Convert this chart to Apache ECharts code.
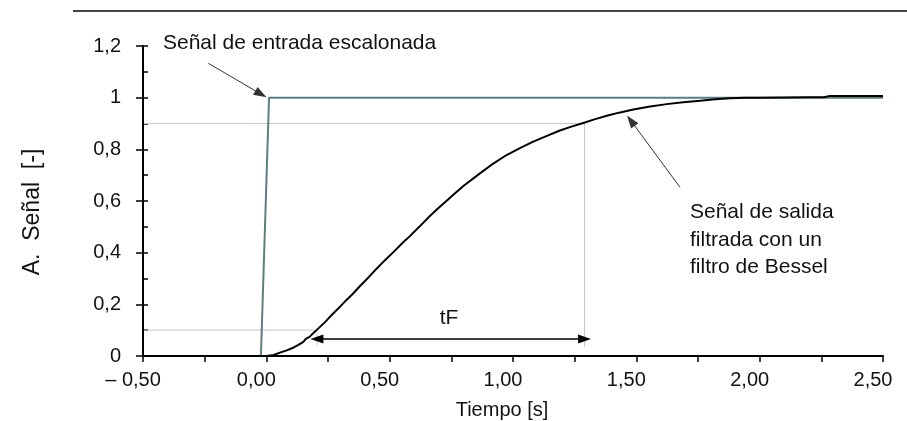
<!DOCTYPE html>
<html>
<head>
<meta charset="utf-8">
<script src="https://cdn.jsdelivr.net/npm/echarts@6/dist/echarts.min.js"></script>
<style>
  html, body { margin: 0; padding: 0; background: #fff; }
  #grafico { width: 907px; height: 421px; }
</style>
</head>
<body>
<div id="grafico"></div>
<script>
// señal de entrada (escalón)
var tEntrada = [-0.5, -0.022, 0.011, 2.5];
var vEntrada = [0, 0, 1, 1];

// señal de salida filtrada (Bessel)
var tSalida = [-0.5, 0.0, 0.03, 0.055, 0.08, 0.109, 0.13, 0.15, 0.16, 0.175, 0.19, 0.211, 0.24, 0.265,
  0.3, 0.326, 0.35, 0.38, 0.41, 0.447, 0.48, 0.515, 0.555, 0.582, 0.62, 0.663, 0.7, 0.738, 0.758,
  0.8, 0.866, 0.92, 0.974, 1.03, 1.082, 1.14, 1.19, 1.24, 1.285, 1.33, 1.38, 1.43, 1.488, 1.55,
  1.623, 1.69, 1.758, 1.82, 1.88, 1.94, 2.0, 2.1, 2.2, 2.26, 2.28, 2.4, 2.5];
var vSalida = [0, 0, 0.004, 0.013, 0.021, 0.032, 0.043, 0.055, 0.066, 0.074, 0.088, 0.107, 0.133, 0.159,
  0.192, 0.218, 0.24, 0.271, 0.3, 0.338, 0.37, 0.402, 0.44, 0.464, 0.5, 0.542, 0.575, 0.607, 0.624,
  0.659, 0.707, 0.745, 0.778, 0.806, 0.83, 0.853, 0.873, 0.889, 0.902, 0.916, 0.93, 0.942, 0.954, 0.965,
  0.975, 0.982, 0.988, 0.994, 0.998, 1.0, 1.0, 1.001, 1.002, 1.002, 1.006, 1.006, 1.006];

// tiempos al 10 % y 90 %
var t10 = 0.205;
var t90 = 1.29;
var nivelFlecha = 0.066;

// rango de los ejes
var tMin = -0.5, tMax = 2.5;
var vMin = 0, vMax = 1.2;

// etiquetas de ejes
var xTicks = [-0.5, 0, 0.5, 1, 1.5, 2, 2.5];
var xTickLabels = ['– 0,50', '0,00', '0,50', '1,00', '1,50', '2,00', '2,50'];
var yTicks = [0, 0.2, 0.4, 0.6, 0.8, 1, 1.2];
var yTickLabels = ['0', '0,2', '0,4', '0,6', '0,8', '1', '1,2'];

var fuente = 'Liberation Sans, Arial, sans-serif';

function etiqueta(v, ticks, labels) {
  for (var i = 0; i < ticks.length; i++) {
    if (Math.abs(v - ticks[i]) < 1e-6) return labels[i];
  }
  return '';
}

function pares(ts, vs) {
  return ts.map(function (t, i) { return [t, vs[i]]; });
}

var chart = echarts.init(document.getElementById('grafico'));

var option = {
  animation: false,
  backgroundColor: '#fff',
  grid: { left: 143, right: 24, top: 46, bottom: 65 },
  xAxis: {
    type: 'value', min: tMin, max: tMax, interval: 0.25,
    axisLine: { onZero: false, lineStyle: { color: '#000', width: 2 } },
    axisTick: { length: 6, lineStyle: { color: '#000', width: 1.5 } },
    axisLabel: {
      margin: 14, color: '#111', fontSize: 20, fontFamily: fuente,
      padding: [0, 20, 0, 0],
      formatter: function (v) { return etiqueta(v, xTicks, xTickLabels); }
    },
    splitLine: { show: false }
  },
  yAxis: [{
    type: 'value', min: vMin, max: vMax, interval: 0.1, position: 'left',
    axisLine: { show: true, onZero: false, lineStyle: { color: '#000', width: 2 } },
    axisTick: { show: true, inside: true, length: 5, lineStyle: { color: '#000', width: 1.5 } },
    axisLabel: {
      margin: 22, color: '#111', fontSize: 20, fontFamily: fuente,
      padding: [0, 0, 8, 0],
      formatter: function (v) { return etiqueta(v, yTicks, yTickLabels); }
    },
    splitLine: { show: false }
  }, {
    type: 'value', min: vMin, max: vMax, interval: 0.2, position: 'left', offset: 0,
    axisLine: { show: false, onZero: false },
    axisTick: { show: true, length: 7, lineStyle: { color: '#000', width: 1.5 } },
    axisLabel: { show: false },
    splitLine: { show: false }
  }],
  series: [
    {
      type: 'line', symbol: 'none', silent: true, z: 1,
      lineStyle: { color: '#c8c8c8', width: 1 },
      data: [[tMin, 0.1], [t10, 0.1], [t10, 0.04]]
    },
    {
      type: 'line', symbol: 'none', silent: true, z: 1,
      lineStyle: { color: '#c8c8c8', width: 1 },
      data: [[tMin, 0.9], [t90, 0.9], [t90, 0.035]]
    },
    {
      // ejes en forma de L (vertical + horizontal) para que el trazo vertical se vea
      type: 'line', symbol: 'none', silent: true, clip: false, z: 5,
      lineStyle: { color: '#000', width: 2 },
      data: [[tMin, vMax], [tMin, vMin], [tMax, vMin]]
    },
    {
      name: 'Entrada', type: 'line', symbol: 'none', z: 2,
      lineStyle: { color: '#5d7d80', width: 2 },
      data: pares(tEntrada, vEntrada)
    },
    {
      name: 'Salida', type: 'line', symbol: 'none', z: 3,
      lineStyle: { color: '#000', width: 2 },
      data: pares(tSalida, vSalida),
      markLine: {
        silent: true, animation: false,
        label: { show: false },
        symbolSize: [9, 13],
        data: [
          [{ coord: [-0.235, 1.133], symbol: 'none', lineStyle: { color: '#333', width: 1, type: 'solid' } },
           { coord: [-0.022, 1.014], symbol: 'triangle' }],
          [{ coord: [1.677, 0.653], symbol: 'none', lineStyle: { color: '#333', width: 1, type: 'solid' } },
           { coord: [1.478, 0.911], symbol: 'triangle' }],
          [{ coord: [t10, nivelFlecha], symbol: 'triangle', lineStyle: { color: '#000', width: 1.5, type: 'solid' } },
           { coord: [t90, nivelFlecha], symbol: 'triangle' }]
        ],
        itemStyle: { color: '#000' }
      }
    }
  ],
  graphic: [
    { type: 'line', shape: { x1: 73, y1: 11, x2: 907, y2: 11 }, style: { stroke: '#444', lineWidth: 2 } },
    { type: 'text', x: 163, y: 43, style: { text: 'Señal de entrada escalonada', font: '21px ' + fuente, fill: '#111', verticalAlign: 'middle' } },
    { type: 'text', x: 690, y: 212, style: { text: 'Señal de salida', font: '21px ' + fuente, fill: '#111', verticalAlign: 'middle' } },
    { type: 'text', x: 690, y: 240, style: { text: 'filtrada con un', font: '21px ' + fuente, fill: '#111', verticalAlign: 'middle' } },
    { type: 'text', x: 690, y: 267, style: { text: 'filtro de Bessel', font: '21px ' + fuente, fill: '#111', verticalAlign: 'middle' } },
    { type: 'text', x: 449, y: 318, style: { text: 'tF', font: '21px ' + fuente, fill: '#111', align: 'center', verticalAlign: 'middle' } },
    { type: 'text', x: 502, y: 410, style: { text: 'Tiempo [s]', font: '20px ' + fuente, fill: '#111', align: 'center', verticalAlign: 'middle' } },
    { type: 'text', x: 33, y: 212, rotation: Math.PI / 2, style: { text: 'A.  Señal  [-]', font: '23px ' + fuente, fill: '#111', align: 'center', verticalAlign: 'middle' } }
  ]
};

chart.setOption(option);
</script>
</body>
</html>
